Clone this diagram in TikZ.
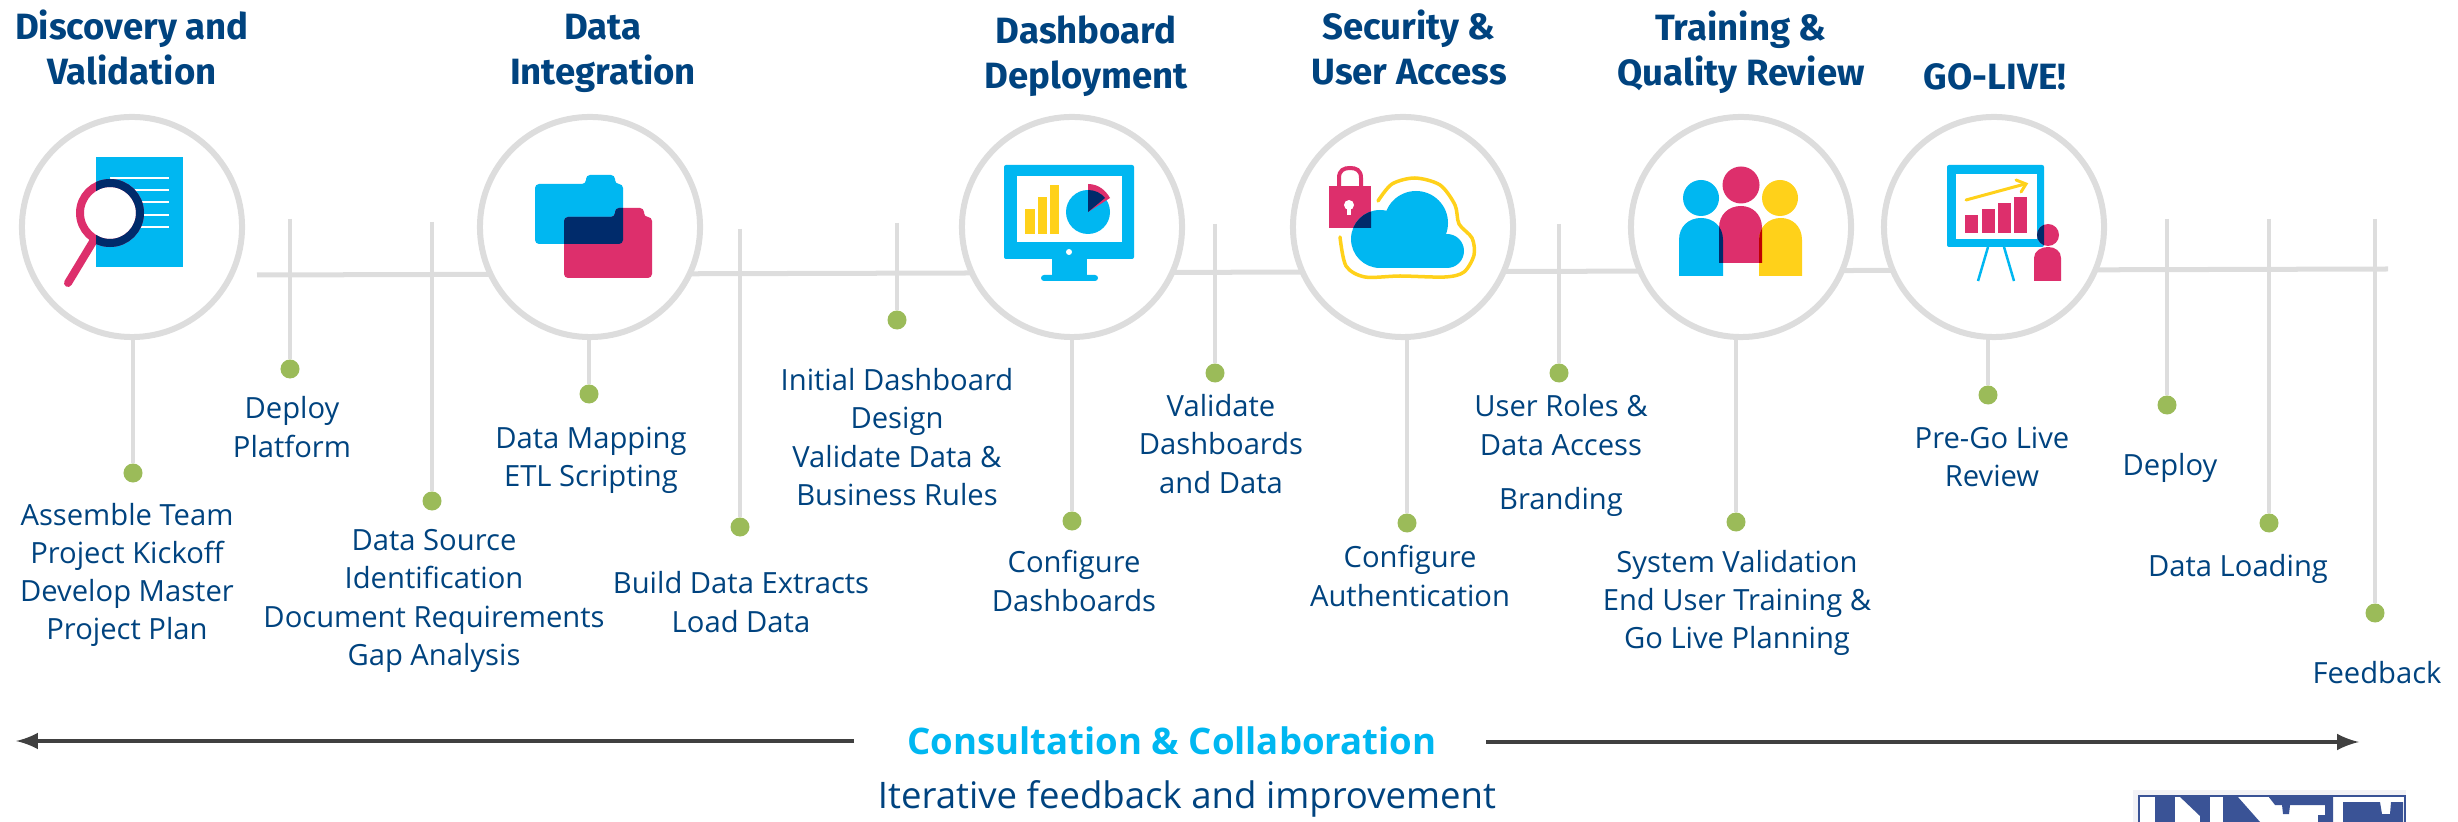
\documentclass[tikz,border=0pt]{standalone}
\usepackage{fontspec}
\setmainfont{Open Sans}
\newfontfamily\titlefont{Fira Sans}
\definecolor{navytxt}{HTML}{00437F}
\definecolor{railgray}{HTML}{DDDDDD}
\definecolor{dotgreen}{HTML}{9BBB59}
\definecolor{skyblue}{HTML}{00B7F1}
\definecolor{rosepink}{HTML}{DD2F6C}
\definecolor{sunyellow}{HTML}{FFD11A}
\definecolor{inkblue}{HTML}{002B6B}
\definecolor{logoblue}{HTML}{3A5396}
\definecolor{logopale}{HTML}{F2F2F6}
\begin{document}
\begin{tikzpicture}[x=0.01cm,y=-0.01cm]

    \tikzstyle{hub}=[circle, draw=railgray, fill=white, line width=0.06cm, minimum size=2.2cm, inner sep=0]
    \tikzstyle{rail}=[draw=railgray, line width=0.05cm]
    \tikzstyle{stem}=[draw=railgray, line width=0.035cm]
    \tikzstyle{tdot}=[circle, fill=dotgreen, minimum size=0.19cm, inner sep=0]
    \tikzstyle{tlabel}=[text=navytxt, align=center, font=\fontsize{8.3pt}{10.85pt}\selectfont, inner sep=0]
    \tikzstyle{ttitle}=[text=navytxt, align=center, font=\fontsize{10.4pt}{12.8pt}\selectfont\titlefont\bfseries, inner sep=0]
    \tikzstyle{wide}=[draw=black!75, line width=0.04cm]

    \useasboundingbox (0,0) rectangle (2458,822);

    \coordinate (railw) at (257,275);
    \coordinate (raile) at (2388,269);
    \draw[rail] (railw) -- (raile);

    % free hanging stems
    \foreach \i/\x/\ytop/\ydot in {b/290/219/369, c/432/222/501, e/740/229/527, f/897/223/320, h/1215/224/373, j/1559/224/373, m/2167/219/405, n/2269/219/523, o/2375/219/613} {
        \coordinate (top\i) at (\x,\ytop);
        \node[tdot] (dot\i) at (\x,\ydot) {};
        \draw[stem] (top\i) -- (dot\i);
    }

    % stems below the circles
    \foreach \i/\x/\ydot in {a/133/473, d/589/394, g/1072/521, i/1407/523, k/1736/522, l/1988/395} {
        \coordinate (top\i) at (\x,300);
        \node[tdot] (dot\i) at (\x,\ydot) {};
        \draw[stem] (top\i) -- (dot\i);
    }

    \foreach \i/\x in {1/132, 2/590, 3/1072, 4/1403, 5/1741, 6/1994} {
        \node[hub] (hub\i) at (\x,227) {};
    }

    \node[ttitle] (tt1) at (132,47) {Discovery and\\Validation};
    \node[ttitle] (tt2) at (603,53) {Data\\Integration};
    \node[ttitle] (tt3) at (1086,56) {Dashboard\\Deployment};
    \node[ttitle] (tt4) at (1409,47) {Security \&\\User Access};
    \node[ttitle] (tt5) at (1741,52) {Training \&\\Quality Review};
    \node[ttitle] (tt6) at (1995,77) {GO-LIVE!};

    \node[tlabel] (lba) at (127,575) {Assemble Team\\Project Kickoff\\Develop Master\\Project Plan};
    \node[tlabel] (lbb) at (292,427) {Deploy\\Platform};
    \node[tlabel] (lbc) at (434,601) {Data Source\\Identification\\Document Requirements\\Gap Analysis};
    \node[tlabel] (lbd) at (591,460) {Data Mapping\\ETL Scripting};
    \node[tlabel] (lbe) at (741,602) {Build Data Extracts\\Load Data};
    \node[tlabel] (lbf) at (897,437) {Initial Dashboard\\Design\\Validate Data \&\\Business Rules};
    \node[tlabel] (lbg) at (1074,581) {Configure\\Dashboards};
    \node[tlabel] (lbh) at (1221,444) {Validate\\Dashboards\\and Data};
    \node[tlabel] (lbi) at (1410,576) {Configure\\Authentication};
    \node[tlabel] (lbj) at (1561,425) {User Roles \&\\Data Access};
    \node[tlabel] (lbjj) at (1561,502) {Branding};
    \node[tlabel] (lbk) at (1737,603) {System Validation\\End User Training \&\\Go Live Planning};
    \node[tlabel] (lbl) at (1992,457) {Pre-Go Live\\Review};
    \node[tlabel] (lbm) at (2170,468) {Deploy};
    \node[tlabel] (lbn) at (2238,569) {Data Loading};
    \node[tlabel] (lbo) at (2377,673) {Feedback};

    \node[text=skyblue, font=\fontsize{10.4pt}{12pt}\selectfont\bfseries, inner sep=0] (cons) at (1172,741) {Consultation \& Collaboration};
    \node[text=navytxt, font=\fontsize{10.4pt}{12pt}\selectfont, inner sep=0] (iter) at (1187,799) {Iterative feedback and improvement};
    \coordinate (arrw) at (16,741);
    \coordinate (arrm) at (854,741);
    \coordinate (arrn) at (1486,742);
    \coordinate (arre) at (2359,742);
    \draw[wide,-{latex}] (arrm) -- (arrw);
    \draw[wide,-{latex}] (arrn) -- (arre);

    % document and lens
    \fill[skyblue] (96,157) rectangle (183,267);
    \foreach \y in {178,190,202,215,227} {
        \draw[white, line width=0.025cm] (110,\y) -- (169,\y);
    }
    \draw[rosepink, line width=0.08cm, line cap=round] (94,240) -- (68,283);
    \draw[rosepink, fill=white, line width=0.08cm] (110,213) circle (30);
    \begin{scope}
        \clip (96,157) rectangle (183,267);
        \draw[inkblue, line width=0.08cm] (110,213) circle (30);
    \end{scope}

    % folders
    \newcommand{\folderpath}[4]{(#1,#2+9) -- (#3-37,#2+9) -- (#3-37,#2) -- (#3-8,#2) -- (#3-8,#2+9) -- (#3,#2+9) -- (#3,#4) -- (#1,#4) -- cycle}
    \fill[skyblue, rounded corners=0.04cm] \folderpath{535}{175}{623}{244};
    \fill[rosepink, rounded corners=0.04cm] \folderpath{564}{208}{652}{278};
    \begin{scope}
        \clip[rounded corners=0.04cm] \folderpath{535}{175}{623}{244};
        \fill[inkblue, rounded corners=0.04cm] \folderpath{564}{208}{652}{278};
    \end{scope}

    % monitor
    \fill[skyblue, rounded corners=0.02cm] (1004,165) rectangle (1134,259);
    \fill[white] (1017,176) rectangle (1122,242);
    \fill[white] (1069,252) circle (3);
    \fill[skyblue] (1052,259) rectangle (1087,276);
    \fill[skyblue, rounded corners=0.03cm] (1041,275) rectangle (1098,281);
    \fill[sunyellow] (1025,209) rectangle (1035,234);
    \fill[sunyellow] (1038,197) rectangle (1047,234);
    \fill[sunyellow] (1050,185) rectangle (1059,234);
    \fill[skyblue] (1088,212) circle (22);
    \fill[rosepink] (1088,212) -- (1088,184) .. controls (1099,184) and (1106,191) .. (1110,198) -- cycle;
    \fill[inkblue] (1088,212) -- (1088,190) .. controls (1095,190) and (1101,193) .. (1105,198) -- cycle;

    % lock and cloud
    \newcommand{\cloudfill}[1]{
        \fill[#1] (1380,239) circle (29);
        \fill[#1] (1416,223) circle (32);
        \fill[#1] (1447,251) circle (17);
        \fill[#1] (1380,235) rectangle (1447,268);
    }
    \draw[sunyellow, line width=0.035cm, line cap=round] plot[smooth] coordinates {(1378,201) (1392,184) (1415,178) (1440,185) (1455,205) (1459,224) (1472,238) (1474,255) (1464,272) (1445,277) (1400,276) (1365,277) (1346,266) (1340,237)};
    \draw[rosepink, line width=0.04cm] (1339,187) -- (1339,178) .. controls (1339,170) and (1344,168) .. (1350,168) .. controls (1356,168) and (1361,170) .. (1361,178) -- (1361,187);
    \fill[rosepink] (1329,186) rectangle (1371,228);
    \cloudfill{skyblue}
    \begin{scope}
        \clip (1329,186) rectangle (1371,228);
        \cloudfill{inkblue}
    \end{scope}
    \fill[white] (1349,205) circle (5);
    \fill[white] (1347,205) rectangle (1351,215);

    % three people
    \newcommand{\personbody}[4]{(#1,#4) -- (#1,#2+22) .. controls (#1,#2+8) and (#1+10,#2) .. (#1+22,#2) .. controls (#3-10,#2) and (#3,#2+8) .. (#3,#2+22) -- (#3,#4) -- cycle}
    \fill[skyblue] (1701,198) circle (18);
    \fill[skyblue] \personbody{1679}{218}{1723}{276};
    \fill[rosepink] (1741,185) circle (18.5);
    \fill[rosepink] \personbody{1719}{206}{1762}{263};
    \fill[sunyellow] (1780,198) circle (18);
    \fill[sunyellow] \personbody{1759}{218}{1802}{276};
    \begin{scope}
        \clip \personbody{1719}{206}{1762}{263};
        \fill[inkblue] \personbody{1679}{218}{1723}{276};
        \fill[red!75!black] \personbody{1759}{218}{1802}{276};
    \end{scope}

    % presentation board
    \draw[skyblue, line width=0.025cm] (1988,247) -- (1978,281);
    \draw[skyblue, line width=0.025cm] (2004,247) -- (2014,281);
    \fill[skyblue, rounded corners=0.02cm] (1947,165) rectangle (2044,247);
    \fill[white] (1956,174) rectangle (2037,239);
    \foreach \x/\y in {1965/215, 1982/209, 1998/203, 2014/197} {
        \fill[rosepink] (\x,\y) rectangle (\x+12.5,233);
    }
    \draw[sunyellow, line width=0.03cm, line cap=round] (1966,200) -- (2025,184);
    \draw[sunyellow, line width=0.03cm, line cap=round] (2016,180) -- (2026,184) -- (2021,192);
    \fill[rosepink] (2048,235) circle (11);
    \begin{scope}
        \clip (1947,165) rectangle (2044,247);
        \fill[inkblue] (2048,235) circle (11);
    \end{scope}
    \fill[rosepink] (2034,281) -- (2034,258) .. controls (2034,251) and (2041,247) .. (2048,247) .. controls (2055,247) and (2061,251) .. (2061,258) -- (2061,281) -- cycle;

    % logo, cut by the lower edge
    \fill[logopale] (2133,790) rectangle (2406,822);
    \fill[white] (2139,796) rectangle (2405,822);
    \draw[logoblue, line width=0.012cm] (2139,822) -- (2139,796) -- (2405,796) -- (2405,822);
    \fill[logoblue] (2155,796) rectangle (2175,822);
    \fill[logoblue] (2179,796) -- (2200,796) -- (2200,816) -- cycle;
    \fill[logoblue] (2200,796) rectangle (2210,822);
    \fill[logoblue] (2223,796) -- (2237,796) -- (2260,822) -- (2223,822) -- cycle;
    \fill[logoblue] (2268,796) -- (2333,796) -- (2333,822) -- (2325,822) -- (2318,822) -- (2318,815) -- (2325,815) -- (2325,805) -- (2290,805) -- (2289,814) -- (2283,814) -- (2282,805) -- (2275,805) -- cycle;
    \fill[logoblue] (2343,802) -- (2380,802) -- (2382,814) -- (2390,814) -- (2391,802) -- (2403,802) -- (2403,822) -- (2343,822) -- cycle;

\end{tikzpicture}
\end{document}
